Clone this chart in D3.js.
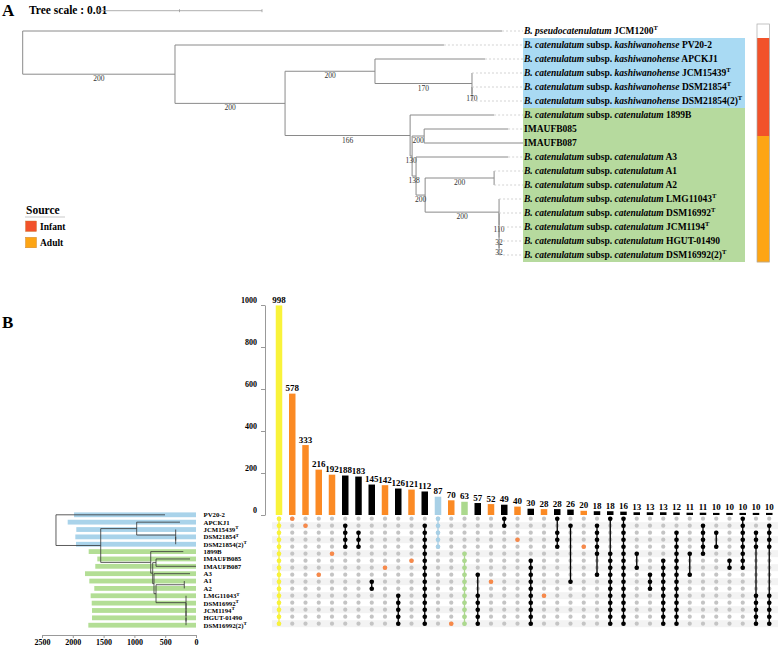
<!DOCTYPE html>
<html><head><meta charset="utf-8">
<script src="https://cdn.jsdelivr.net/npm/d3@7"></script>
<style>
body{margin:0;background:#fff}
svg{display:block}
text{font-family:"Liberation Serif","Times New Roman",serif}
</style>
</head><body>
<svg id="c" width="778" height="646"></svg>
<script>
// ================= DATA =================
const strainIds = ["JCM1200","PV20-2","APCKJ1","JCM15439","DSM21854","DSM21854(2)","1899B","IMAUFB085","IMAUFB087","A3","A1","A2","LMG11043","DSM16992","JCM1194","HGUT-01490","DSM16992(2)"];
const strainSubsp = ["pseudocatenulatum","kashiwanohense","kashiwanohense","kashiwanohense","kashiwanohense","kashiwanohense","catenulatum","","","catenulatum","catenulatum","catenulatum","catenulatum","catenulatum","catenulatum","catenulatum","catenulatum"];
const strainType = [1,0,0,1,1,1,0,0,0,0,0,0,1,1,1,0,1];
const strainSource = ["","Infant","Infant","Infant","Infant","Infant","Infant","Infant","Adult","Adult","Adult","Adult","Adult","Adult","Adult","Adult","Adult"];
const sourceKeys = ["Infant","Adult"];
const treeScaleValue = 10;      // branch-length units (0.001 subst/site)
const treeScaleLabel = "0.01";

// Phylogeny (panel A): l = branch length (x0.001), b = bootstrap, n = leaf index
const treeA = {l:0, c:[
  {n:0, l:29.05},
  {l:9.23, b:200, c:[
    {n:1, l:16.3},
    {l:6.67, b:200, c:[
      {l:5.45, b:200, c:[
        {n:2, l:6.67},
        {l:5.88, b:170, c:[
          {n:3, l:0},
          {l:0, b:170, c:[{n:4, l:0},{n:5, l:0}]}
        ]}
      ]},
      {l:7.58, b:166, c:[
        {n:6, l:5.09},
        {l:0.12, b:130, c:[
          {l:0.73, b:200, c:[{n:7, l:5.09},{n:8, l:6.0}]},
          {l:0.24, b:138, c:[
            {n:9, l:5.58},
            {l:0.55, b:200, c:[
              {l:4.18, b:200, c:[{n:10, l:0},{n:11, l:0}]},
              {l:4.48, b:200, c:[
                {n:12, l:0},
                {l:0, b:110, c:[
                  {n:13, l:0},
                  {l:0, b:32, c:[
                    {n:14, l:0},
                    {l:0, b:32, c:[{n:15, l:0},{n:16, l:0}]}
                  ]}
                ]}
              ]}
            ]}
          ]}
        ]}
      ]}
    ]}
  ]}
]};

// Panel B left: gene counts per strain
const rowLabels = ["PV20-2","APCKJ1","JCM15439","DSM21854","DSM21854(2)","1899B","IMAUFB085","IMAUFB087","A3","A1","A2","LMG11043","DSM16992","JCM1194","HGUT-01490","DSM16992(2)"];
const rowType = [0,0,1,1,1,0,0,0,0,0,0,1,1,1,0,1];
const rowSubsp = ["kashiwanohense","kashiwanohense","kashiwanohense","kashiwanohense","kashiwanohense","catenulatum","catenulatum","catenulatum","catenulatum","catenulatum","catenulatum","catenulatum","catenulatum","catenulatum","catenulatum","catenulatum"];
const rowGeneCounts = [1980,2083,1943,1959,1948,1742,1602,1635,1802,1732,1651,1710,1693,1688,1688,1748];
const geneTicks = [0,500,1000,1500,2000,2500];

// Dendrogram (panel B left): h = height on the gene-count axis, n = row index
const treeB = {h:2273, c:[
  {n:0, h:503},
  {h:1547, c:[
    {h:963, c:[
      {n:1, h:260},
      {h:330, c:[{n:2, h:330},{h:330, c:[{n:3, h:330},{n:4, h:330}]}]}
    ]},
    {h:735, c:[
      {n:5, h:206},
      {h:703, c:[
        {h:649, c:[{n:6, h:97},{n:7, h:0}]},
        {h:682, c:[
          {n:8, h:97},
          {h:649, c:[
            {h:190, c:[{n:9, h:190},{n:10, h:190}]},
            {h:162, c:[
              {n:11, h:162},
              {h:162, c:[{n:12, h:162},{h:162, c:[{n:13, h:162},{h:162, c:[{n:14, h:162},{n:15, h:162}]}]}]}
            ]}
          ]}
        ]}
      ]}
    ]}
  ]}
]};

// UpSet intersections
const setSizes = [998,578,333,216,192,188,183,145,142,126,121,112,87,70,63,57,52,49,40,30,28,28,26,20,18,18,16,13,13,13,12,11,11,10,10,10,10,10];
const setGroup = ["core","unique","unique","unique","unique","shared","shared","shared","unique","shared","unique","shared","kash","unique","cat","shared","unique","shared","unique","shared","unique","shared","shared","unique","shared","shared","shared","shared","shared","shared","shared","shared","shared","shared","shared","shared","shared","shared"];
const setMembers = [
  [0,1,2,3,4,5,6,7,8,9,10,11,12,13,14,15],
  [0],[1],[8],[5],
  [1,2,3,4],[2,3,4],[9,10],[7],[11,12,13,14,15],[6],
  [1,2,3,4,5,6,7,8,9,10,11,12,13,14,15],
  [0,1,2,3,4],[15],[5,6,7,8,9,10,11,12,13,14,15],
  [8,11,12,13,14,15],[9],[0,1],[3],
  [6,7,8,9,10,11,12,13,14,15],[11],[0,2,3,4],[1,9],[4],
  [1,2,3,4,5,8],[0,5,6,7,8,9,10,11,12,13,14,15],
  [0,1,2,3,4,5,6,7,8,9,10,11,12,13,14,15],
  [5,7],[8,9,10],[6,7,8,9,10,11,12,13,14,15],
  [2,3,4,5,6,7,8,9,10,11,12,13,14,15],[5,8],[1,2,3,4,5],[2,4],[6,7],
  [0,1,2,3,4,5,6,7],[2,3,4,11,12,13,14,15],[1,2,3,4,11,12,13,14,15]
];
const countTicks = [0,200,400,600,800,1000];

// ================= STYLE =================
const barColor = {core:"#f9f33a", unique:"#fb8a24", kash:"#a8d0e6", cat:"#acd98e", shared:"#000000"};
const dotColor = {core:"#f9f33a", unique:"#f7894a", kash:"#a8d0e6", cat:"#acd98e", shared:"#000000"};
const sourceColor = {Infant:"#f2522a", Adult:"#fda514"};
const subspBg = {kashiwanohense:"#a9daf3", catenulatum:"#b6da9e"};
const subspBar = {kashiwanohense:"#a9d3ea", catenulatum:"#b3de95"};

const svg = d3.select("#c");

// ================= PANEL A =================
svg.append("text").attr("x",2).attr("y",16).attr("font-size",17).attr("font-weight","bold").text("A");
svg.append("text").attr("x",29).attr("y",14).attr("font-size",11.5).attr("font-weight","bold").text("Tree scale : " + treeScaleLabel);

const xA = d3.scaleLinear().domain([0, 10]).range([22.7, 187.7]);
const yA = d3.scaleLinear().domain([0, 16]).range([31, 255]);

// scale bar
{
  const x0 = 97, len = xA(treeScaleValue) - xA(0), yb = 10.7;
  const g = svg.append("g").attr("stroke","#999").attr("stroke-width",0.8);
  g.append("line").attr("x1",x0).attr("x2",x0+len).attr("y1",yb).attr("y2",yb);
  [0,0.5,1].forEach(f=>g.append("line").attr("x1",x0+f*len).attr("x2",x0+f*len).attr("y1",yb-1.5).attr("y2",yb+1.5));
}

const hA = d3.hierarchy(treeA, d=>d.c);
hA.eachBefore(n=>{ n.cx = (n.parent ? n.parent.cx : 0) + (n.data.l||0); });
hA.eachAfter(n=>{ n.py = n.children ? (n.children[0].py + n.children[n.children.length-1].py)/2 : yA(n.data.n); });

const labelX = 523;
["kashiwanohense","catenulatum"].forEach(s=>{
  const idx = strainSubsp.map((v,i)=>({v,i})).filter(o=>o.i>0 && (o.v===s || (s==="catenulatum" && o.v===""))).map(o=>o.i);
  const y0 = yA(d3.min(idx)) - 7, y1 = yA(d3.max(idx)) + 7;
  svg.append("rect").attr("x",labelX).attr("y",y0).attr("width",222).attr("height",y1-y0).attr("fill",subspBg[s]);
});

const stripG = svg.append("g");
strainSource.forEach((s,i)=>{
  if(!s) return;
  stripG.append("rect").attr("x",757).attr("y",yA(i)-7).attr("width",12.5).attr("height",14.2).attr("fill",sourceColor[s]);
});
stripG.append("rect").attr("x",757).attr("y",24).attr("width",12.5).attr("height",yA(16)+7-24)
  .attr("fill","none").attr("stroke","#aaa").attr("stroke-width",0.7);

const tA = svg.append("g");
hA.each(n=>{
  if(n.parent){
    tA.append("line").attr("x1",xA(n.parent.cx)).attr("x2",xA(n.cx)).attr("y1",n.py).attr("y2",n.py)
      .attr("stroke","#8a8a8a").attr("stroke-width",1);
  }
  if(n.children){
    tA.append("line").attr("x1",xA(n.cx)).attr("x2",xA(n.cx))
      .attr("y1",n.children[0].py).attr("y2",n.children[n.children.length-1].py)
      .attr("stroke","#8a8a8a").attr("stroke-width",1);
    if(n.data.b && n.parent){
      tA.append("text").attr("x",(xA(n.parent.cx)+xA(n.cx))/2).attr("y",n.py+7)
        .attr("text-anchor","middle").attr("font-size",7.5).attr("fill","#333").text(n.data.b);
    }
  }
});
hA.leaves().forEach(n=>{
  const i = n.data.n;
  if(xA(n.cx) < labelX-1){
    tA.append("line").attr("x1",xA(n.cx)).attr("x2",labelX).attr("y1",n.py).attr("y2",n.py)
      .attr("stroke","#c8c8c8").attr("stroke-width",0.8).attr("stroke-dasharray","2,2");
  }
  const t = svg.append("text").attr("x",labelX+1).attr("y",n.py+3.4).attr("font-size",9.5).attr("font-weight","bold");
  const sub = strainSubsp[i];
  if(sub==="pseudocatenulatum"){
    t.append("tspan").attr("font-style","italic").text("B. pseudocatenulatum");
    t.append("tspan").text(" " + strainIds[i]);
  } else if(sub===""){
    t.append("tspan").text(strainIds[i]);
  } else {
    t.append("tspan").attr("font-style","italic").text("B. catenulatum");
    t.append("tspan").text(" subsp. ");
    t.append("tspan").attr("font-style","italic").text(sub);
    t.append("tspan").text(" " + strainIds[i]);
  }
  if(strainType[i]) t.append("tspan").attr("font-size",6.5).attr("dy",-4).text("T");
});

// legend
{
  const g = svg.append("g");
  g.append("text").attr("x",26).attr("y",214).attr("font-size",11.5).attr("font-weight","bold").text("Source");
  g.append("line").attr("x1",25).attr("x2",65).attr("y1",217).attr("y2",217).attr("stroke","#bbb").attr("stroke-width",0.8);
  sourceKeys.forEach((k,i)=>{
    g.append("rect").attr("x",25.5).attr("y",221+i*16.3).attr("width",11).attr("height",10.5)
      .attr("fill",sourceColor[k]).attr("stroke","#c77a2a").attr("stroke-width",0.4);
    g.append("text").attr("x",40).attr("y",230+i*16.3).attr("font-size",9.5).attr("font-weight","bold").text(k);
  });
}

// ================= PANEL B =================
svg.append("text").attr("x",2).attr("y",328).attr("font-size",17).attr("font-weight","bold").text("B");

const xU = d3.scalePoint().domain(d3.range(setSizes.length)).range([279, 769.25]);
const yU = d3.scaleLinear().domain([0,1000]).range([515, 305]);
const yM = d3.scalePoint().domain(d3.range(16)).range([518.7, 623.7]);
const barW = 6.5;

{
  const ax = svg.append("g").attr("transform","translate(265,0)")
    .call(d3.axisLeft(yU).tickValues(countTicks).tickSize(4).tickSizeOuter(0).tickFormat(d3.format("d")));
  ax.select(".domain").attr("stroke","#999");
  ax.selectAll(".tick line").attr("stroke","#999");
  ax.selectAll("text").attr("font-family",'"Liberation Serif",serif').attr("font-size",8)
    .attr("font-weight","bold").attr("fill","#000").attr("dy",-2.6).attr("x",-8);
}

const mG = svg.append("g");
d3.range(16).filter(i=>i%2===1).forEach(i=>{
  mG.append("rect").attr("x",272).attr("y",yM(i)-3.5).attr("width",506).attr("height",7).attr("fill","#f3f3f3");
});

setSizes.forEach((v,i)=>{
  const g = setGroup[i];
  svg.append("rect").attr("x",xU(i)-barW/2).attr("y",yU(v)).attr("width",barW).attr("height",yU(0)-yU(v))
    .attr("fill",barColor[g]);
  svg.append("text").attr("x",xU(i)).attr("y",yU(v)-2.5).attr("text-anchor","middle")
    .attr("font-size",9).attr("font-weight","bold").text(v);
});

setSizes.forEach((v,i)=>{
  d3.range(16).forEach(r=>{
    mG.append("circle").attr("cx",xU(i)).attr("cy",yM(r)).attr("r",2.1).attr("fill","#c4c4c4");
  });
});
setMembers.forEach((m,i)=>{
  const g = setGroup[i], col = dotColor[g];
  if(m.length>1){
    mG.append("line").attr("x1",xU(i)).attr("x2",xU(i)).attr("y1",yM(d3.min(m))).attr("y2",yM(d3.max(m)))
      .attr("stroke",col).attr("stroke-width",1.3);
  }
  m.forEach(r=>{
    mG.append("circle").attr("cx",xU(i)).attr("cy",yM(r)).attr("r",2.3).attr("fill",col);
  });
});

// left bars
const xL = d3.scaleLinear().domain([0,2500]).range([196, 42]);
const yL = d3.scalePoint().domain(d3.range(16)).range([514.8, 625.2]);
rowGeneCounts.forEach((v,i)=>{
  svg.append("rect").attr("x",xL(v)).attr("y",yL(i)-2.4).attr("width",xL(0)-xL(v)).attr("height",4.8)
    .attr("fill",subspBar[rowSubsp[i]]);
});
const hB = d3.hierarchy(treeB, d=>d.c);
hB.eachAfter(n=>{ n.py = n.children ? (n.children[0].py + n.children[n.children.length-1].py)/2 : yL(n.data.n); });
const dG = svg.append("g").attr("stroke","#333").attr("stroke-width",0.8);
hB.each(n=>{
  if(n.parent) dG.append("line").attr("x1",xL(n.parent.data.h)).attr("x2",xL(n.data.h)).attr("y1",n.py).attr("y2",n.py);
  if(n.children) dG.append("line").attr("x1",xL(n.data.h)).attr("x2",xL(n.data.h))
      .attr("y1",n.children[0].py).attr("y2",n.children[n.children.length-1].py);
});
rowLabels.forEach((s,i)=>{
  const t = svg.append("text").attr("x",203.5).attr("y",yL(i)+2.4).attr("font-size",6.8).attr("font-weight","bold").text(s);
  if(rowType[i]) t.append("tspan").attr("font-size",5).attr("dy",-2.5).text("T");
});
{
  const ax = svg.append("g").attr("transform","translate(0,635)")
    .call(d3.axisBottom(xL).tickValues(geneTicks).tickSize(3).tickSizeOuter(0).tickFormat(d3.format("d")));
  ax.select(".domain").attr("stroke","#999");
  ax.selectAll(".tick line").attr("stroke","#999");
  ax.selectAll("text").attr("font-family",'"Liberation Serif",serif').attr("font-size",8)
    .attr("font-weight","bold").attr("fill","#000").attr("y",4);
}
</script>
</body></html>
